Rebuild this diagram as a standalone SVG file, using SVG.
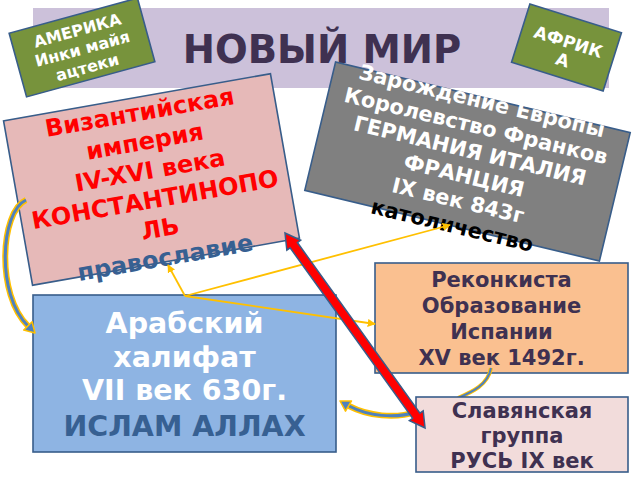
<svg xmlns="http://www.w3.org/2000/svg" width="640" height="480" viewBox="0 0 640 480">
<defs>
<style>
text{font-family:"DejaVu Sans","Liberation Sans",sans-serif;font-weight:bold;text-anchor:middle}
.box{stroke:#385D8A;stroke-width:1.6}
.yl{fill:none;stroke:#FFC000;stroke-width:1.8}
.cy{fill:none;stroke:#FFC000;stroke-width:6;stroke-linecap:butt}
.cb{fill:none;stroke:#4F81BD;stroke-width:3;stroke-linecap:butt}
.cy2{fill:none;stroke:#FFC000;stroke-width:4}
.cb2{fill:none;stroke:#4F81BD;stroke-width:2}
.ah{fill:#4F81BD;stroke:#FFC000;stroke-width:1.5;stroke-linejoin:round}
</style>
<marker id="ya" viewBox="0 0 10 10" refX="9" refY="5" markerWidth="4.5" markerHeight="4.5" orient="auto" markerUnits="strokeWidth">
<path d="M0,0 L10,5 L0,10 Z" fill="#FFC000"/>
</marker>
<path id="c1" d="M26,200 C0,212 -4,295 28,326"/>
<path id="c2" d="M416,412 C395,419 368,416 349,406"/>
<path id="c3" d="M491,368 C488,385 472,392 458,398"/>
</defs>
<rect width="640" height="480" fill="#FFFFFF"/>

<g id="title">
<rect x="33" y="8" width="576" height="80" fill="#CCC1DA"/>
<text x="322" y="63" font-size="38.5" fill="#3F3151">НОВЫЙ МИР</text>
</g>

<g id="africa" transform="translate(566.5,47.5) rotate(17.5)">
<rect class="box" x="-48" y="-30.5" width="96" height="61" fill="#77933C"/>
<text y="0" font-size="17" fill="#FFFFFF">АФРИК</text>
<text y="19" font-size="17" fill="#FFFFFF">А</text>
</g>

<g id="america" transform="translate(82,47.5) rotate(-15.3)">
<rect class="box" x="-66.5" y="-33" width="133" height="66" fill="#77933C"/>
<text y="-12" font-size="16" fill="#FFFFFF">АМЕРИКА</text>
<text y="7" font-size="16" fill="#FFFFFF">Инки майя</text>
<text y="26" font-size="16" fill="#FFFFFF">ацтеки</text>
</g>

<g id="europe" transform="translate(467.5,161.5) rotate(13.5)">
<rect class="box" x="-151.5" y="-66" width="303" height="132" fill="#808080"/>
<text y="-55" font-size="21" fill="#FFFFFF">Зарождение Европы</text>
<text y="-29.4" font-size="21" fill="#FFFFFF">Королевство Франков</text>
<text y="-3.8" font-size="21" fill="#FFFFFF">ГЕРМАНИЯ ИТАЛИЯ</text>
<text y="21.8" font-size="21" fill="#FFFFFF">ФРАНЦИЯ</text>
<text y="47.4" font-size="21" fill="#FFFFFF">IX век 843г</text>
<text y="73" font-size="21" fill="#000000">католичество</text>
</g>

<g id="byzantium" transform="translate(151.5,179.5) rotate(-10)">
<rect class="box" x="-135.5" y="-83.5" width="271" height="167" fill="#E6B9B8"/>
<text y="-60" font-size="24" fill="#FF0000">Византийская</text>
<text y="-30.5" font-size="24" fill="#FF0000">империя</text>
<text y="-1" font-size="24" fill="#FF0000">IV-XVI века</text>
<text y="28.5" font-size="24" fill="#FF0000">КОНСТАНТИНОПО</text>
<text y="58" font-size="24" fill="#FF0000">ЛЬ</text>
<text y="87.5" font-size="24" fill="#376092">православие</text>
</g>

<g id="arab">
<rect class="box" x="33" y="295" width="303" height="157" fill="#8EB4E3"/>
<text x="184.5" y="333" font-size="28.5" fill="#FFFFFF">Арабский</text>
<text x="184.5" y="367" font-size="28.5" fill="#FFFFFF">халифат</text>
<text x="184.5" y="400" font-size="28.5" fill="#FFFFFF">VII век 630г.</text>
<text x="184.5" y="436" font-size="28.5" fill="#376092">ИСЛАМ АЛЛАХ</text>
</g>

<g id="reconquista">
<rect class="box" x="375" y="263" width="253" height="110" fill="#FAC090"/>
<text x="501.5" y="287" font-size="21" fill="#3F3151">Реконкиста</text>
<text x="501.5" y="313" font-size="21" fill="#3F3151">Образование</text>
<text x="501.5" y="339" font-size="21" fill="#3F3151">Испании</text>
<text x="501.5" y="365" font-size="21" fill="#3F3151">XV век 1492г.</text>
</g>

<g id="connectors">
<use href="#c3" class="cy2"/>
<use href="#c3" class="cb2"/>
<line class="yl" x1="185" y1="296" x2="168" y2="265" marker-end="url(#ya)"/>
<line class="yl" x1="185" y1="296" x2="450" y2="225" marker-end="url(#ya)"/>
<line class="yl" x1="185" y1="296" x2="375" y2="324" marker-end="url(#ya)"/>
<use href="#c1" class="cy"/>
<use href="#c1" class="cb"/>
<polygon class="ah" points="35,333 23.7,330.1 32.1,321.7"/>
</g>

<g id="slavic">
<rect class="box" x="416" y="397" width="212" height="75" fill="#F2DCDB"/>
<text x="522" y="418" font-size="21" fill="#3F3151">Славянская</text>
<text x="522" y="443" font-size="21" fill="#3F3151">группа</text>
<text x="522" y="468" font-size="21" fill="#3F3151">РУСЬ IX век</text>
</g>

<g id="connectors-top">
<use href="#c2" class="cy"/>
<use href="#c2" class="cb"/>
<polygon class="ah" points="340,401 351.5,400.9 345.5,411.1"/>
<polygon transform="translate(285,233) rotate(54.3)" points="0,0 15,-8.5 15,-4.5 225,-4.5 225,-8.5 240,0 225,8.5 225,4.5 15,4.5 15,8.5" fill="#FF0000" stroke="#385D8A" stroke-width="1.5" stroke-linejoin="miter"/>
</g>
</svg>
